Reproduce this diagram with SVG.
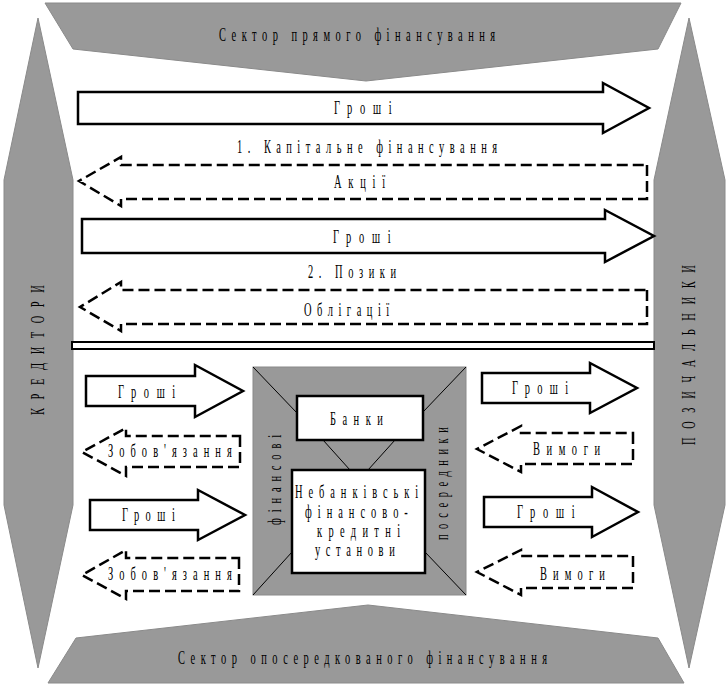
<svg xmlns="http://www.w3.org/2000/svg" width="727" height="688" viewBox="0 0 727 688">
<style>
.sec{fill:#999999;stroke:#8a8a8a;stroke-width:1}
.box{fill:#ffffff;stroke:#000;stroke-width:2.5}
.thin{stroke:#000;stroke-width:1;fill:none}
.sol{fill:#ffffff;stroke:#000;stroke-width:2.5;stroke-linejoin:miter}
.dsh{fill:#ffffff;stroke:#000;stroke-width:2.5;stroke-dasharray:11 5}
.t{font-family:"Liberation Serif","Times New Roman",serif;font-size:19px;fill:#000}
</style>
<rect width="727" height="688" fill="#ffffff"/>
<g id="top-sector">
<polygon class="sec" points="45,3 681,3 658,49 366,81 73,49"/>
<text class="t" transform="translate(219,41) scale(0.55,1)" textLength="502" lengthAdjust="spacing">Сектор прямого фінансування</text>
</g>
<g id="bottom-sector">
<polygon class="sec" points="368,605 658,638 684,683 48,683 76,638"/>
<text class="t" transform="translate(178,664) scale(0.55,1)" textLength="671" lengthAdjust="spacing">Сектор опосередкованого фінансування</text>
</g>
<g id="creditors">
<polygon class="sec" points="38,18 73,180 73,505 38,668 4,505 4,180"/>
<text class="t" transform="translate(44,415) rotate(-90) scale(0.55,1)" textLength="236" lengthAdjust="spacing">КРЕДИТОРИ</text>
</g>
<g id="borrowers">
<polygon class="sec" points="689,18 725,180 725,505 689,668 654,505 654,180"/>
<text class="t" transform="translate(695,445) rotate(-90) scale(0.55,1)" textLength="327" lengthAdjust="spacing">ПОЗИЧАЛЬНИКИ</text>
</g>
<g id="divider">
<rect x="72" y="342" width="582" height="7" fill="#ffffff" stroke="#000" stroke-width="2"/>
</g>
<g id="intermediaries">
<rect x="253" y="367" width="213" height="228" class="sec"/>
<line class="thin" x1="253" y1="367" x2="297" y2="413"/>
<line class="thin" x1="466" y1="367" x2="423" y2="412"/>
<line class="thin" x1="253" y1="595" x2="292" y2="552"/>
<line class="thin" x1="466" y1="595" x2="425" y2="552"/>
<line class="thin" x1="323" y1="440" x2="350" y2="470"/>
<line class="thin" x1="395" y1="440" x2="368" y2="470"/>
<text class="t" transform="translate(281,525) rotate(-90) scale(0.55,1)" textLength="164" lengthAdjust="spacing">фінансові</text>
<text class="t" transform="translate(448,540) rotate(-90) scale(0.55,1)" textLength="205" lengthAdjust="spacing">посередники</text>
</g>
<g id="banks">
<rect class="box" x="297" y="396" width="126" height="44"/>
<text class="t" transform="translate(330,425) scale(0.55,1)" textLength="96" lengthAdjust="spacing">Банки</text>
</g>
<g id="nonbanks">
<rect class="box" x="292" y="470" width="133" height="103"/>
<text class="t" transform="translate(295,498) scale(0.55,1)" textLength="224" lengthAdjust="spacing">Небанківські</text>
<text class="t" transform="translate(305,518) scale(0.55,1)" textLength="187" lengthAdjust="spacing">фінансово-</text>
<text class="t" transform="translate(317,537) scale(0.55,1)" textLength="151" lengthAdjust="spacing">кредитні</text>
<text class="t" transform="translate(315,556) scale(0.55,1)" textLength="145" lengthAdjust="spacing">установи</text>
</g>
<g id="connectors">
<polygon class="sol" points="78,92 603,92 603,83 649,108 603,133 603,124 78,124"/>
<text class="t" transform="translate(334,114) scale(0.55,1)" textLength="105" lengthAdjust="spacing">Гроші</text>
<text class="t" transform="translate(237,153) scale(0.55,1)" textLength="473" lengthAdjust="spacing">1. Капітальне фінансування</text>
<polygon class="dsh" points="647,165 647,199 121,199 121,206 79,181 121,157 121,165"/>
<text class="t" transform="translate(334,188) scale(0.55,1)" textLength="93" lengthAdjust="spacing">Акції</text>
<polygon class="sol" points="82,219 605,219 605,210 654,236 605,262 605,253 82,253"/>
<text class="t" transform="translate(333,243) scale(0.55,1)" textLength="105" lengthAdjust="spacing">Гроші</text>
<text class="t" transform="translate(308,278) scale(0.55,1)" textLength="160" lengthAdjust="spacing">2. Позики</text>
<polygon class="dsh" points="647,290 647,324 121,324 121,331 80,307 121,282 121,290"/>
<text class="t" transform="translate(304,316) scale(0.55,1)" textLength="155" lengthAdjust="spacing">Облігації</text>
<polygon class="sol" points="86,376 195,376 195,365 243,391 195,417 195,406 86,406"/>
<text class="t" transform="translate(118,398) scale(0.55,1)" textLength="104" lengthAdjust="spacing">Гроші</text>
<polygon class="dsh" points="240,436 240,467 126,467 126,476 82,452 126,428 126,436"/>
<text class="t" transform="translate(108,457) scale(0.55,1)" textLength="225" lengthAdjust="spacing">Зобов'язання</text>
<polygon class="sol" points="90,500 198,500 198,490 245,515 198,540 198,530 90,530"/>
<text class="t" transform="translate(122,521) scale(0.55,1)" textLength="96" lengthAdjust="spacing">Гроші</text>
<polygon class="dsh" points="239,558 239,591 126,591 126,599 82,575 126,550 126,558"/>
<text class="t" transform="translate(108,580) scale(0.55,1)" textLength="225" lengthAdjust="spacing">Зобов'язання</text>
<polygon class="sol" points="482,373 590,373 590,363 637,388 590,413 590,403 482,403"/>
<text class="t" transform="translate(512,394) scale(0.55,1)" textLength="102" lengthAdjust="spacing">Гроші</text>
<polygon class="dsh" points="633,433 633,464 521,464 521,472 477,449 521,426 521,433"/>
<text class="t" transform="translate(533,455) scale(0.55,1)" textLength="122" lengthAdjust="spacing">Вимоги</text>
<polygon class="sol" points="484,497 592,497 592,487 638,512 592,537 592,527 484,527"/>
<text class="t" transform="translate(517,518) scale(0.55,1)" textLength="105" lengthAdjust="spacing">Гроші</text>
<polygon class="dsh" points="633,556 633,588 521,588 521,595 477,572 521,550 521,556"/>
<text class="t" transform="translate(540,580) scale(0.55,1)" textLength="118" lengthAdjust="spacing">Вимоги</text>
</g>
</svg>
